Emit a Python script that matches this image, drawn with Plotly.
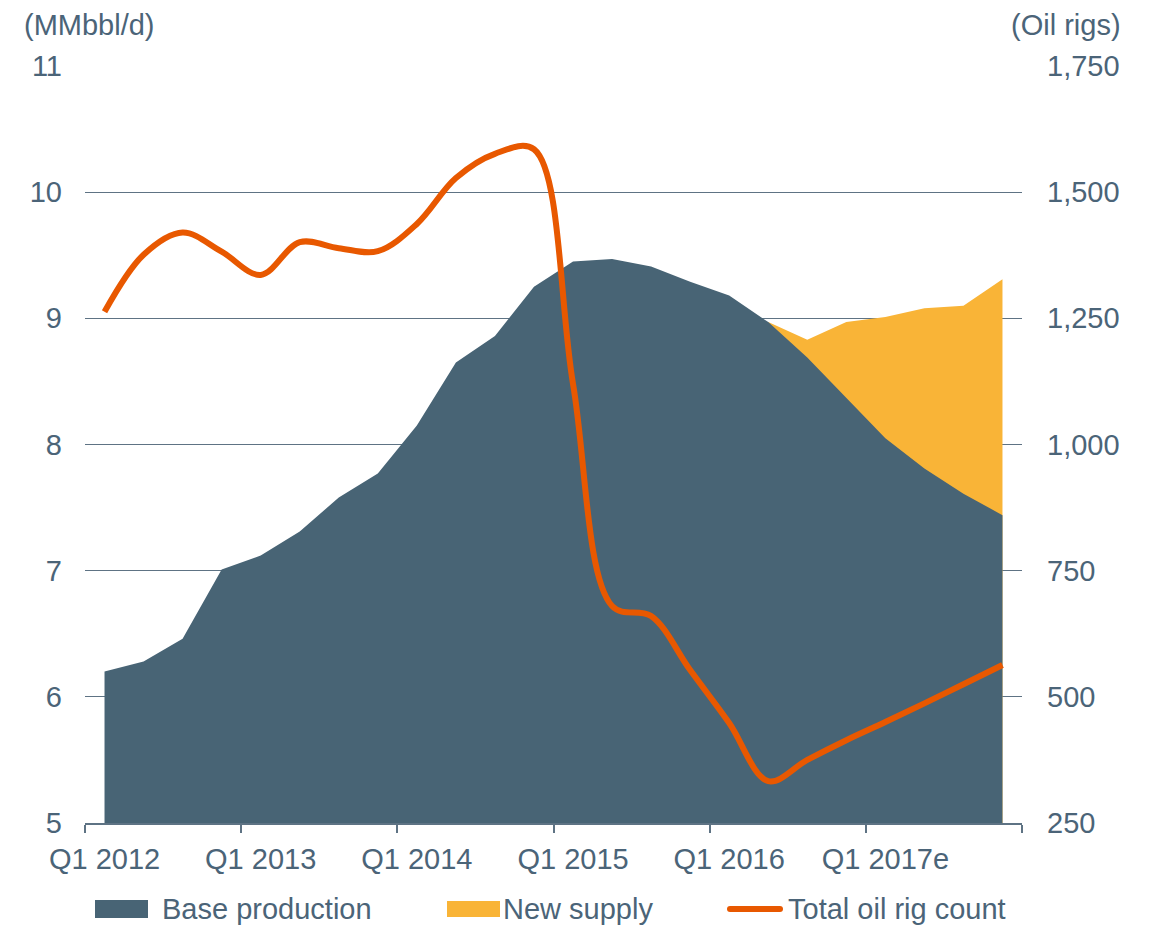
import plotly.graph_objects as go

# ---------------- data ----------------
quarters = [
    "Q1 2012", "Q2 2012", "Q3 2012", "Q4 2012",
    "Q1 2013", "Q2 2013", "Q3 2013", "Q4 2013",
    "Q1 2014", "Q2 2014", "Q3 2014", "Q4 2014",
    "Q1 2015", "Q2 2015", "Q3 2015", "Q4 2015",
    "Q1 2016", "Q2 2016", "Q3 2016", "Q4 2016",
    "Q1 2017", "Q2 2017", "Q3 2017", "Q4 2017",
]
base_production = [6.20, 6.28, 6.46, 7.01, 7.12, 7.31, 7.58, 7.77,
                   8.15, 8.65, 8.86, 9.25, 9.45, 9.47, 9.41, 9.29,
                   9.18, 8.97, 8.69, 8.37, 8.05, 7.81, 7.61, 7.44]
new_supply = [None, None, None, None, None, None, None, None,
              None, None, None, None, None, None, None, None,
              None, 0.00, 0.14, 0.60, 0.96, 1.27, 1.49, 1.87]
oil_rigs = [1263, 1376, 1420, 1382, 1336, 1401, 1389, 1383,
            1437, 1528, 1576, 1585, 1120, 680, 660, 553,
            448, 333, 375, 414, 450, 487, 525, 563]
tick_quarters = ["Q1 2012", "Q1 2013", "Q1 2014", "Q1 2015", "Q1 2016", "Q1 2017"]
tick_labels = ["Q1 2012", "Q1 2013", "Q1 2014", "Q1 2015", "Q1 2016", "Q1 2017e"]
series_names = ["Base production", "New supply", "Total oil rig count"]
left_unit = "(MMbbl/d)"
right_unit = "(Oil rigs)"

# ---------------- style ----------------
C_BASE = "#486475"
C_NEW = "#F9B437"
C_RIG = "#E85800"
C_TEXT = "#4B6478"
C_GRID = "#5E7384"
FONT = "Liberation Sans, Arial, sans-serif"
FS = 29

# the page body has an 8px margin: size the figure so the plot lands where the reference has it
OFF = 8
W, H = 1152 - OFF, 925 - OFF
ML, MR, MT, MB = 85 - OFF, 130, 66 - OFF, 102

# category centres on a numeric axis (each quarter occupies one unit)
xpos = [i + 0.5 for i in range(len(quarters))]
new_x = [xpos[i] for i, v in enumerate(new_supply) if v is not None]
total_y = [base_production[i] + v for i, v in enumerate(new_supply) if v is not None]

fig = go.Figure()
# new supply (stacked on top of base) drawn first, base covers its lower part
fig.add_trace(go.Scatter(x=new_x, y=total_y, mode="lines", fill="tozeroy",
                         fillcolor=C_NEW, line=dict(width=0), name=series_names[1],
                         showlegend=False, hoverinfo="skip"))
fig.add_trace(go.Scatter(x=xpos, y=base_production, mode="lines", fill="tozeroy",
                         fillcolor=C_BASE, line=dict(width=0), name=series_names[0],
                         showlegend=False))
fig.add_trace(go.Scatter(x=xpos, y=oil_rigs, mode="lines", yaxis="y2",
                         line=dict(color=C_RIG, width=6, shape="spline", smoothing=1),
                         name=series_names[2], showlegend=False))

n = len(quarters)
tickvals = [xpos[quarters.index(q)] for q in tick_quarters]
boundaries = [quarters.index(q) for q in tick_quarters] + [n]

fig.update_layout(
    width=W, height=H,
    margin=dict(l=ML, r=MR, t=MT, b=MB),
    paper_bgcolor="white", plot_bgcolor="white",
    font=dict(family=FONT, size=FS, color=C_TEXT),
    showlegend=False,
    xaxis=dict(range=[0, n], tickvals=tickvals, ticktext=tick_labels, ticks="",
               showgrid=False, zeroline=False, showline=True, linecolor=C_GRID,
               linewidth=2, ticklabelstandoff=9,
               tickfont=dict(size=FS, color=C_TEXT),
               minor=dict(tickvals=boundaries, ticks="outside", ticklen=8,
                          tickwidth=2, tickcolor=C_GRID, showgrid=False)),
    yaxis=dict(range=[5, 11], tick0=5, dtick=1, showgrid=True, gridcolor=C_GRID,
               gridwidth=1, zeroline=False, showline=False, ticks="",
               ticklabelstandoff=22, tickfont=dict(size=FS, color=C_TEXT)),
    yaxis2=dict(range=[250, 1750], tick0=250, dtick=250, overlaying="y", side="right",
                showgrid=False, zeroline=False, showline=False, ticks="",
                tickformat=",d", ticklabelstandoff=24,
                tickfont=dict(size=FS, color=C_TEXT)),
)

PW, PH = W - ML - MR, H - MT - MB
def px(x):  # page pixel -> paper x
    return (x - OFF - ML) / PW
def py(y):  # page pixel -> paper y
    return (MT + PH - (y - OFF)) / PH

annotations = [
    dict(text=left_unit, x=px(22), y=py(25), xanchor="left", yanchor="middle"),
    dict(text=right_unit, x=px(1123), y=py(25), xanchor="right", yanchor="middle"),
    dict(text=series_names[0], x=px(160), y=py(909), xanchor="left", yanchor="middle"),
    dict(text=series_names[1], x=px(501), y=py(909), xanchor="left", yanchor="middle"),
    dict(text=series_names[2], x=px(786), y=py(909), xanchor="left", yanchor="middle"),
]
for a in annotations:
    a.update(xref="paper", yref="paper", showarrow=False,
             font=dict(family=FONT, size=FS, color=C_TEXT))
fig.update_layout(annotations=annotations)

shapes = [
    dict(type="rect", x0=px(95), x1=px(148), y0=py(900), y1=py(918),
         fillcolor=C_BASE, line=dict(width=0)),
    dict(type="rect", x0=px(447), x1=px(500), y0=py(901), y1=py(917),
         fillcolor=C_NEW, line=dict(width=0)),
    dict(type="line", x0=px(730), x1=px(780), y0=py(909), y1=py(909),
         line=dict(color=C_RIG, width=6)),
    dict(type="circle", x0=px(727), x1=px(733), y0=py(906), y1=py(912),
         fillcolor=C_RIG, line=dict(width=0)),
    dict(type="circle", x0=px(777), x1=px(783), y0=py(906), y1=py(912),
         fillcolor=C_RIG, line=dict(width=0)),
]
for s in shapes:
    s.update(xref="paper", yref="paper")
fig.update_layout(shapes=shapes)

fig.write_html("out.html")
